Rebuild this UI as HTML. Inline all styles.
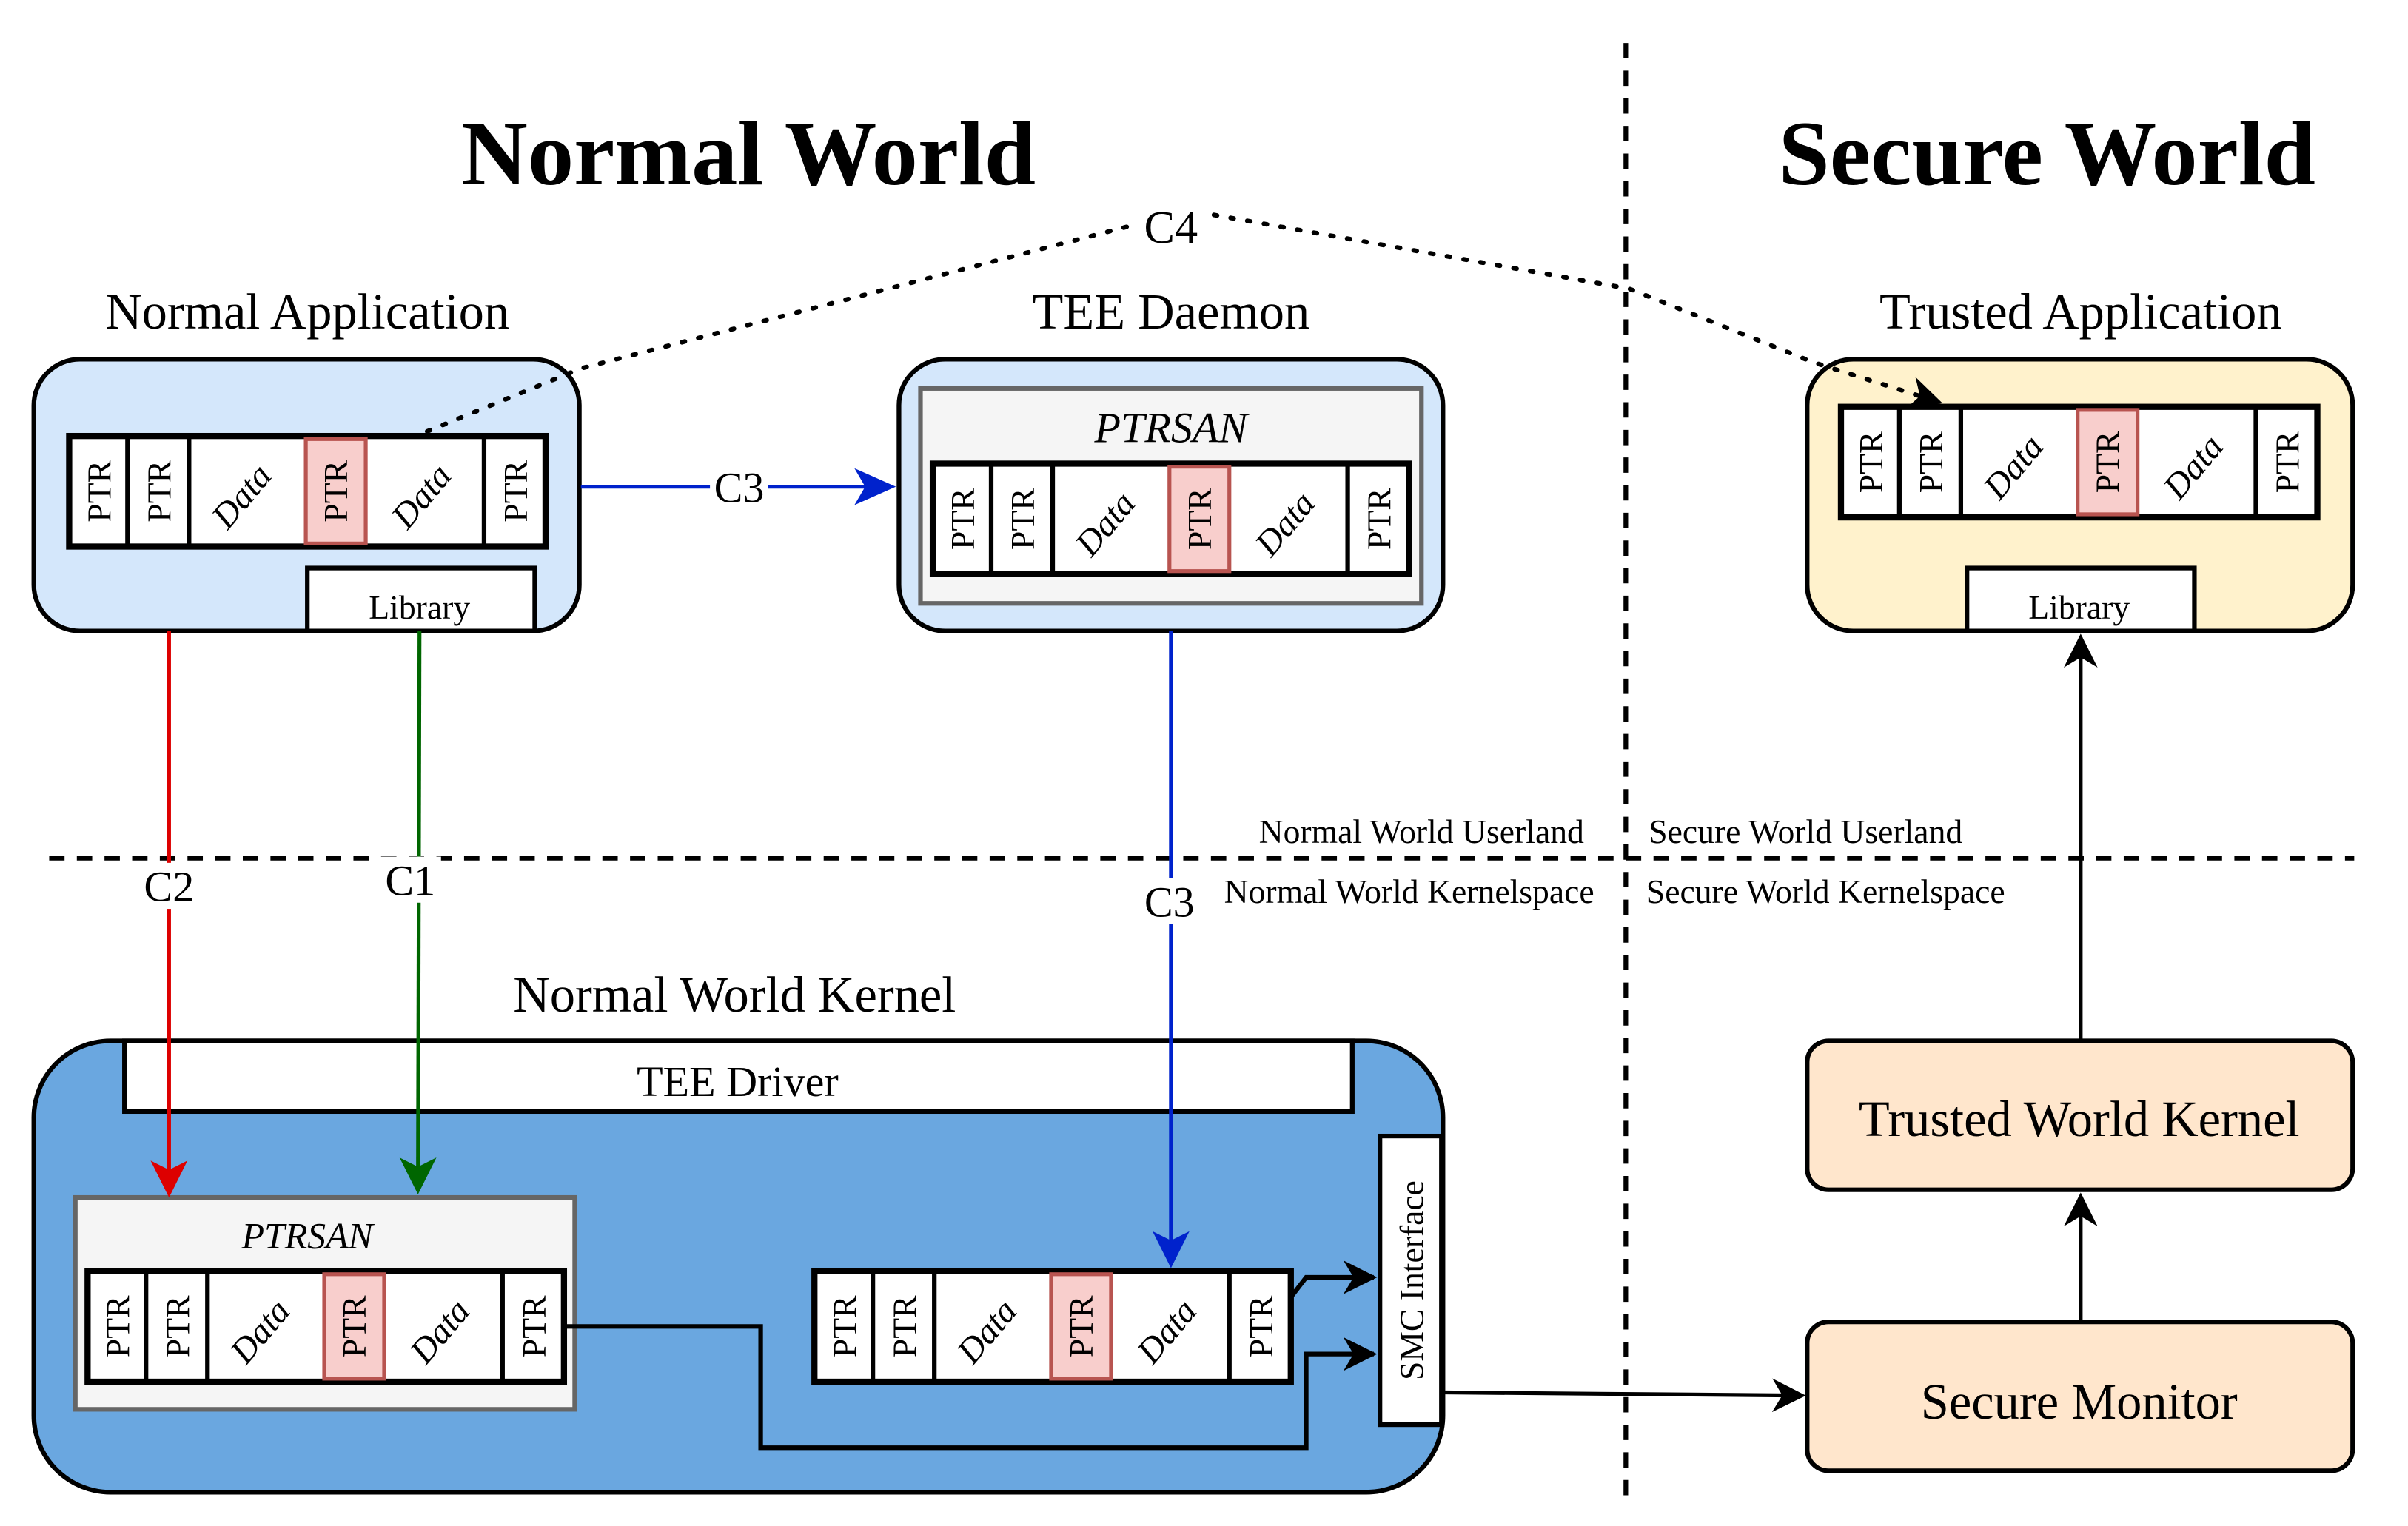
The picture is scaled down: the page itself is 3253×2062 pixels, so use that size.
<!DOCTYPE html>
<html><head><meta charset="utf-8"><style>html,body{margin:0;padding:0;background:#fff}svg{display:block}svg text{font-family:"Liberation Serif","DejaVu Serif",serif}</style></head><body>
<svg width="3253" height="2062" viewBox="0 0 1567 994" preserveAspectRatio="none" xmlns="http://www.w3.org/2000/svg" font-family="Liberation Serif, serif">
<defs>
<marker id="ab" viewBox="0 0 10 10" refX="9" refY="5" markerWidth="22" markerHeight="22" orient="auto" markerUnits="userSpaceOnUse"><path d="M0,0 L10,5 L0,10 L3,5 z" fill="#000"/></marker>
</defs>
<line x1="1058" y1="28" x2="1058" y2="975" stroke="#000" stroke-width="3" stroke-dasharray="10,8"/>
<line x1="32" y1="559" x2="1532" y2="559" stroke="#000" stroke-width="3" stroke-dasharray="10,8"/>
<text x="487" y="120" font-size="60" font-weight="bold" text-anchor="middle">Normal World</text>
<text x="1332" y="120" font-size="60" font-weight="bold" text-anchor="middle">Secure World</text>
<text x="200" y="214" font-size="33" text-anchor="middle">Normal Application</text>
<text x="762" y="214" font-size="33" text-anchor="middle">TEE Daemon</text>
<text x="1354" y="214" font-size="33" text-anchor="middle">Trusted Application</text>
<text x="925" y="549" font-size="22" text-anchor="middle">Normal World Userland</text>
<text x="1175" y="549" font-size="22" text-anchor="middle">Secure World Userland</text>
<text x="917" y="588" font-size="22" text-anchor="middle">Normal World Kernelspace</text>
<text x="1188" y="588" font-size="22" text-anchor="middle">Secure World Kernelspace</text>
<text x="478" y="659" font-size="33" text-anchor="middle">Normal World Kernel</text>

<rect x="22" y="234" width="355" height="177" rx="30" fill="#d4e7fb" stroke="#000" stroke-width="3"/>
<rect x="200" y="370" width="148" height="41" fill="#fff" stroke="#000" stroke-width="3"/>
<text x="273" y="403" font-size="22" text-anchor="middle">Library</text>
<rect x="585" y="234" width="354" height="177" rx="30" fill="#d4e7fb" stroke="#000" stroke-width="3"/>
<rect x="599" y="253" width="326" height="140" fill="#f5f5f5" stroke="#666" stroke-width="3"/>
<text x="762" y="288" font-size="28" font-style="italic" text-anchor="middle">PTRSAN</text>
<rect x="1176" y="234" width="355" height="177" rx="30" fill="#fff2cc" stroke="#000" stroke-width="3"/>
<rect x="1280" y="370" width="148" height="41" fill="#fff" stroke="#000" stroke-width="3"/>
<text x="1353" y="403" font-size="22" text-anchor="middle">Library</text>

<line x1="378" y1="317" x2="580" y2="317" stroke="#0022cc" stroke-width="2.5"/>
<path d="M556,305 L583,317 L556,329 L563,317z" fill="#0022cc"/>
<rect x="462" y="302" width="38" height="30" fill="#fff"/>
<text x="481" y="327" font-size="28" text-anchor="middle">C3</text>

<rect x="22" y="678" width="917" height="294" rx="50" fill="#6aa7e0" stroke="#000" stroke-width="3"/>
<rect x="81" y="678" width="799" height="46" fill="#fff" stroke="#000" stroke-width="3"/>
<text x="480" y="714" font-size="28" text-anchor="middle">TEE Driver</text>
<rect x="49" y="780" width="325" height="138" fill="#f5f5f5" stroke="#666" stroke-width="3"/>
<text x="200" y="813" font-size="24" font-style="italic" text-anchor="middle">PTRSAN</text>
<rect x="898" y="740" width="40" height="188" fill="#fff" stroke="#000" stroke-width="3"/>
<text transform="translate(926,834) rotate(-90)" font-size="22" text-anchor="middle">SMC Interface</text>

<line x1="110" y1="411" x2="110" y2="776" stroke="#dd0000" stroke-width="2.5"/>
<path d="M98,756 L110,780 L122,756 L110,762z" fill="#dd0000"/>
<line x1="273" y1="411" x2="272" y2="773" stroke="#006600" stroke-width="2.5"/>
<path d="M260,754 L272,778 L284,754 L272,760z" fill="#006600"/>
<line x1="762" y1="411" x2="762" y2="822" stroke="#0022cc" stroke-width="2.5"/>
<path d="M750,802 L762,826 L774,802 L762,808z" fill="#0022cc"/>
<rect x="90" y="562" width="40" height="30" fill="#fff"/>
<text x="110" y="587" font-size="28" text-anchor="middle">C2</text>
<rect x="247" y="558" width="40" height="30" fill="#fff"/>
<text x="267" y="583" font-size="28" text-anchor="middle">C1</text>
<rect x="741" y="572" width="40" height="30" fill="#fff"/>
<text x="761" y="597" font-size="28" text-anchor="middle">C3</text>

<g transform="translate(45,284)">
<rect x="0" y="0" width="310" height="72" fill="#fff" stroke="#000" stroke-width="4"/>
<line x1="38" y1="0" x2="38" y2="72" stroke="#000" stroke-width="3"/><line x1="78" y1="0" x2="78" y2="72" stroke="#000" stroke-width="3"/><line x1="270" y1="0" x2="270" y2="72" stroke="#000" stroke-width="3"/>
<rect x="154" y="2" width="39" height="68" fill="#f8cecc" stroke="#b85450" stroke-width="2.5"/>
<text transform="translate(27,36) rotate(-90)" font-size="22" text-anchor="middle">PTR</text><text transform="translate(66,36) rotate(-90)" font-size="22" text-anchor="middle">PTR</text><text transform="translate(181,36) rotate(-90)" font-size="22" text-anchor="middle">PTR</text><text transform="translate(298,36) rotate(-90)" font-size="22" text-anchor="middle">PTR</text>
<text transform="translate(118,44) rotate(-50)" font-size="23" font-style="italic" text-anchor="middle">Data</text><text transform="translate(235,44) rotate(-50)" font-size="23" font-style="italic" text-anchor="middle">Data</text>
</g>
<g transform="translate(607,302)">
<rect x="0" y="0" width="310" height="72" fill="#fff" stroke="#000" stroke-width="4"/>
<line x1="38" y1="0" x2="38" y2="72" stroke="#000" stroke-width="3"/><line x1="78" y1="0" x2="78" y2="72" stroke="#000" stroke-width="3"/><line x1="270" y1="0" x2="270" y2="72" stroke="#000" stroke-width="3"/>
<rect x="154" y="2" width="39" height="68" fill="#f8cecc" stroke="#b85450" stroke-width="2.5"/>
<text transform="translate(27,36) rotate(-90)" font-size="22" text-anchor="middle">PTR</text><text transform="translate(66,36) rotate(-90)" font-size="22" text-anchor="middle">PTR</text><text transform="translate(181,36) rotate(-90)" font-size="22" text-anchor="middle">PTR</text><text transform="translate(298,36) rotate(-90)" font-size="22" text-anchor="middle">PTR</text>
<text transform="translate(118,44) rotate(-50)" font-size="23" font-style="italic" text-anchor="middle">Data</text><text transform="translate(235,44) rotate(-50)" font-size="23" font-style="italic" text-anchor="middle">Data</text>
</g>
<g transform="translate(1198,265)">
<rect x="0" y="0" width="310" height="72" fill="#fff" stroke="#000" stroke-width="4"/>
<line x1="38" y1="0" x2="38" y2="72" stroke="#000" stroke-width="3"/><line x1="78" y1="0" x2="78" y2="72" stroke="#000" stroke-width="3"/><line x1="270" y1="0" x2="270" y2="72" stroke="#000" stroke-width="3"/>
<rect x="154" y="2" width="39" height="68" fill="#f8cecc" stroke="#b85450" stroke-width="2.5"/>
<text transform="translate(27,36) rotate(-90)" font-size="22" text-anchor="middle">PTR</text><text transform="translate(66,36) rotate(-90)" font-size="22" text-anchor="middle">PTR</text><text transform="translate(181,36) rotate(-90)" font-size="22" text-anchor="middle">PTR</text><text transform="translate(298,36) rotate(-90)" font-size="22" text-anchor="middle">PTR</text>
<text transform="translate(118,44) rotate(-50)" font-size="23" font-style="italic" text-anchor="middle">Data</text><text transform="translate(235,44) rotate(-50)" font-size="23" font-style="italic" text-anchor="middle">Data</text>
</g>
<g transform="translate(57,828)">
<rect x="0" y="0" width="310" height="72" fill="#fff" stroke="#000" stroke-width="4"/>
<line x1="38" y1="0" x2="38" y2="72" stroke="#000" stroke-width="3"/><line x1="78" y1="0" x2="78" y2="72" stroke="#000" stroke-width="3"/><line x1="270" y1="0" x2="270" y2="72" stroke="#000" stroke-width="3"/>
<rect x="154" y="2" width="39" height="68" fill="#f8cecc" stroke="#b85450" stroke-width="2.5"/>
<text transform="translate(27,36) rotate(-90)" font-size="22" text-anchor="middle">PTR</text><text transform="translate(66,36) rotate(-90)" font-size="22" text-anchor="middle">PTR</text><text transform="translate(181,36) rotate(-90)" font-size="22" text-anchor="middle">PTR</text><text transform="translate(298,36) rotate(-90)" font-size="22" text-anchor="middle">PTR</text>
<text transform="translate(118,44) rotate(-50)" font-size="23" font-style="italic" text-anchor="middle">Data</text><text transform="translate(235,44) rotate(-50)" font-size="23" font-style="italic" text-anchor="middle">Data</text>
</g>
<g transform="translate(530,828)">
<rect x="0" y="0" width="310" height="72" fill="#fff" stroke="#000" stroke-width="4"/>
<line x1="38" y1="0" x2="38" y2="72" stroke="#000" stroke-width="3"/><line x1="78" y1="0" x2="78" y2="72" stroke="#000" stroke-width="3"/><line x1="270" y1="0" x2="270" y2="72" stroke="#000" stroke-width="3"/>
<rect x="154" y="2" width="39" height="68" fill="#f8cecc" stroke="#b85450" stroke-width="2.5"/>
<text transform="translate(27,36) rotate(-90)" font-size="22" text-anchor="middle">PTR</text><text transform="translate(66,36) rotate(-90)" font-size="22" text-anchor="middle">PTR</text><text transform="translate(181,36) rotate(-90)" font-size="22" text-anchor="middle">PTR</text><text transform="translate(298,36) rotate(-90)" font-size="22" text-anchor="middle">PTR</text>
<text transform="translate(118,44) rotate(-50)" font-size="23" font-style="italic" text-anchor="middle">Data</text><text transform="translate(235,44) rotate(-50)" font-size="23" font-style="italic" text-anchor="middle">Data</text>
</g>

<!-- C4 dotted (drawn on top) -->
<polyline points="278,281 378,240 740,146" fill="none" stroke="#000" stroke-width="3" stroke-dasharray="2,9" stroke-linecap="round"/>
<polyline points="790,140 1060,188 1180,236 1262,262" fill="none" stroke="#000" stroke-width="3" stroke-dasharray="2,9" stroke-linecap="round" marker-end="url(#ab)"/>
<text x="762" y="158" font-size="30" text-anchor="middle">C4</text>

<polyline points="840,845 850,832 894,832" fill="none" stroke="#000" stroke-width="3" marker-end="url(#ab)"/>
<polyline points="367,864 495,864 495,943 850,943 850,882 894,882" fill="none" stroke="#000" stroke-width="3" marker-end="url(#ab)"/>
<line x1="940" y1="907" x2="1173" y2="909" stroke="#000" stroke-width="2.5" marker-end="url(#ab)"/>

<rect x="1176" y="678" width="355" height="97" rx="14" fill="#ffe6cc" stroke="#000" stroke-width="3"/>
<text x="1353" y="740" font-size="33" text-anchor="middle">Trusted World Kernel</text>
<rect x="1176" y="861" width="355" height="97" rx="14" fill="#ffe6cc" stroke="#000" stroke-width="3"/>
<text x="1353" y="924" font-size="33" text-anchor="middle">Secure Monitor</text>
<line x1="1354" y1="861" x2="1354" y2="779" stroke="#000" stroke-width="2.5" marker-end="url(#ab)"/>
<line x1="1354" y1="678" x2="1354" y2="415" stroke="#000" stroke-width="2.5" marker-end="url(#ab)"/>
</svg>
</body></html>
